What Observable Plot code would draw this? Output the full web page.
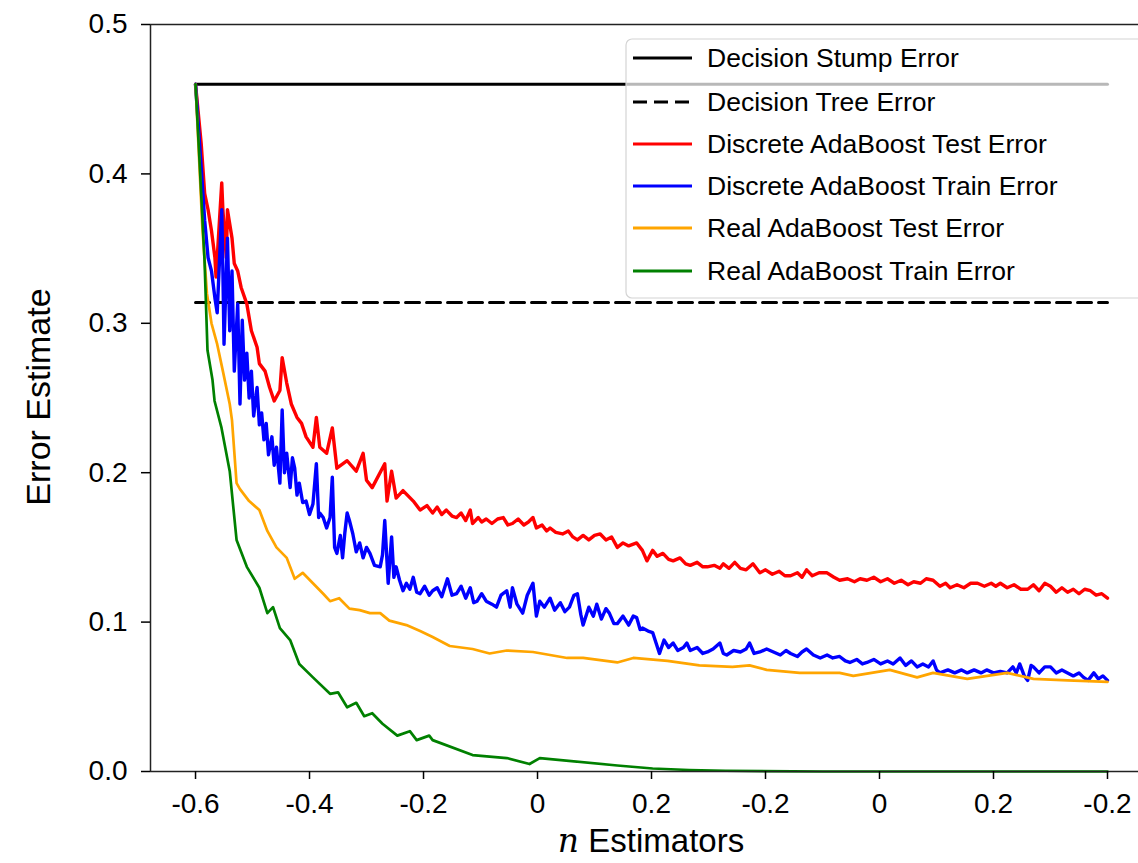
<!DOCTYPE html>
<html><head><meta charset="utf-8">
<script src="https://cdn.jsdelivr.net/npm/d3@7"></script>
<script src="https://cdn.jsdelivr.net/npm/@observablehq/plot@0.6"></script>
<style>body{margin:0;background:#fff;overflow:hidden}</style>
</head><body><div id="chart"></div>
<script>
// ---- data ----
const tickPositions = [0,1,2,3,4,5,6,7,8];
const tickLabels = ["-0.6","-0.4","-0.2","0","0.2","-0.2","0","0.2","-0.2"];
const yTicks = [0,0.1,0.2,0.3,0.4,0.5];
const stumpError = 0.46;
const treeError = 0.314;
const refSpan = [0, 8];

const redX = [0,0.05,0.08,0.11,0.14,0.17,0.18,0.23,0.24,0.27,0.28,0.32,0.34,0.37,0.40,0.45,0.49,0.54,0.56,0.61,0.65,0.69,0.74,0.76,0.80,0.84,0.89,0.93,0.97,1.03,1.06,1.09,1.15,1.20,1.24,1.33,1.41,1.47,1.50,1.55,1.66,1.68,1.72,1.76,1.82,1.91,
  1.97,2.03,2.08,2.12,2.16,2.20,2.25,2.29,2.33,2.37,2.41,2.43,2.48,2.51,2.55,2.60,2.65,2.70,2.74,2.78,2.83,2.88,2.92,2.96,2.99,3.04,3.08,3.11,3.16,3.22,3.27,3.31,3.35,3.40,3.45,3.50,3.55,3.60,3.65,3.70,3.75,3.80,3.87,3.92,3.96,
  4.01,4.05,4.10,4.15,4.19,4.25,4.30,4.34,4.40,4.45,4.49,4.55,4.60,4.63,4.68,4.73,4.78,4.83,4.89,4.95,5.00,5.06,5.12,5.17,5.22,5.28,5.32,5.36,5.41,5.47,5.54,5.60,5.65,5.72,5.78,5.83,5.89,5.95,
  6.01,6.07,6.13,6.19,6.25,6.30,6.36,6.41,6.47,6.53,6.58,6.62,6.68,6.74,6.80,6.86,6.92,6.98,7.02,7.06,7.12,7.18,7.24,7.30,7.35,7.40,7.45,7.50,7.55,7.60,7.65,7.70,7.75,7.80,7.85,7.90,7.95,8.00];
const redY = [0.460,0.420,0.387,0.376,0.362,0.344,0.331,0.394,0.376,0.344,0.376,0.357,0.340,0.335,0.324,0.313,0.295,0.284,0.273,0.268,0.257,0.248,0.255,0.277,0.260,0.246,0.237,0.233,0.224,0.217,0.237,0.217,0.213,0.230,0.203,0.208,0.201,0.213,0.195,0.190,0.206,0.181,0.201,0.183,0.188,0.181,
  0.175,0.178,0.173,0.177,0.172,0.175,0.171,0.170,0.173,0.168,0.175,0.166,0.170,0.167,0.169,0.166,0.169,0.170,0.165,0.166,0.169,0.165,0.167,0.170,0.163,0.165,0.161,0.163,0.160,0.159,0.161,0.157,0.155,0.158,0.155,0.158,0.159,0.155,0.157,0.150,0.153,0.151,0.153,0.148,0.141,
  0.148,0.144,0.146,0.142,0.141,0.143,0.139,0.138,0.140,0.137,0.137,0.138,0.136,0.139,0.136,0.140,0.136,0.135,0.139,0.133,0.135,0.132,0.134,0.131,0.131,0.133,0.130,0.135,0.131,0.133,0.133,0.130,0.128,0.129,0.127,0.129,0.128,0.130,
  0.127,0.129,0.126,0.128,0.125,0.127,0.126,0.129,0.128,0.124,0.126,0.123,0.125,0.123,0.126,0.126,0.124,0.126,0.124,0.126,0.123,0.125,0.122,0.122,0.125,0.121,0.126,0.124,0.120,0.123,0.120,0.122,0.119,0.122,0.121,0.118,0.119,0.116];

const blueX = [0,0.05,0.08,0.11,0.14,0.17,0.19,0.23,0.24,0.25,0.28,0.30,0.32,0.34,0.37,0.39,
  0.41,0.43,0.45,0.47,0.49,0.51,0.54,0.56,0.58,0.60,0.62,0.64,0.67,0.69,0.71,0.74,0.76,0.78,0.80,0.83,0.85,0.87,0.89,0.91,0.94,0.97,1.00,1.03,1.06,1.08,1.09,1.12,1.15,1.18,1.20,1.22,1.24,1.27,1.29,1.31,1.33,1.35,1.38,1.41,1.44,1.47,1.50,1.53,1.57,1.62,1.64,1.66,1.69,1.72,1.74,1.76,1.79,1.82,1.85,1.88,1.91,1.94,
  1.97,2.01,2.05,2.08,2.12,2.16,2.21,2.25,2.29,2.33,2.37,2.41,2.44,2.47,2.51,2.55,2.60,2.64,2.68,2.73,2.76,2.78,2.82,2.87,2.91,2.96,2.99,3.02,3.06,3.11,3.15,3.20,3.24,3.28,3.32,3.35,3.38,3.40,3.45,3.49,3.52,3.56,3.60,3.63,3.67,3.70,3.75,3.80,3.84,3.87,3.90,3.92,3.97,
  4.01,4.04,4.07,4.11,4.15,4.19,4.23,4.28,4.31,4.34,4.40,4.45,4.49,4.54,4.60,4.63,4.66,4.72,4.78,4.83,4.86,4.90,4.95,5.01,5.07,5.13,5.18,5.22,5.28,5.32,5.36,5.42,5.48,5.54,5.59,5.65,5.70,5.74,5.80,5.85,5.89,5.95,
  6.01,6.07,6.12,6.18,6.23,6.28,6.33,6.38,6.43,6.47,6.50,6.53,6.60,6.66,6.72,6.77,6.83,6.89,6.94,7.00,7.06,7.12,7.17,7.20,7.23,7.27,7.30,7.33,7.35,7.40,7.45,7.50,7.55,7.60,7.65,7.70,7.75,7.79,7.83,7.88,7.92,7.96,8.00];
const blueY = [0.460,0.404,0.369,0.344,0.335,0.317,0.307,0.376,0.335,0.286,0.357,0.295,0.335,0.268,0.313,0.246,
  0.302,0.262,0.280,0.250,0.268,0.238,0.257,0.232,0.240,0.222,0.233,0.212,0.224,0.205,0.217,0.193,0.242,0.200,0.213,0.190,0.210,0.203,0.185,0.193,0.180,0.181,0.172,0.179,0.206,0.170,0.173,0.170,0.163,0.170,0.197,0.150,0.146,0.158,0.143,0.160,0.173,0.168,0.159,0.147,0.153,0.143,0.150,0.146,0.138,0.137,0.145,0.168,0.126,0.157,0.130,0.137,0.128,0.121,0.126,0.122,0.130,0.120,
  0.119,0.124,0.118,0.121,0.123,0.117,0.129,0.118,0.119,0.124,0.116,0.123,0.113,0.114,0.119,0.114,0.112,0.110,0.118,0.121,0.110,0.123,0.112,0.106,0.118,0.126,0.104,0.114,0.110,0.116,0.108,0.113,0.107,0.110,0.118,0.119,0.105,0.098,0.110,0.104,0.112,0.102,0.109,0.106,0.099,0.099,0.104,0.098,0.104,0.103,0.095,0.096,0.094,
  0.093,0.086,0.079,0.088,0.083,0.086,0.081,0.083,0.086,0.081,0.083,0.079,0.080,0.082,0.086,0.079,0.078,0.081,0.080,0.082,0.086,0.079,0.080,0.082,0.080,0.078,0.081,0.079,0.077,0.080,0.082,0.078,0.076,0.078,0.076,0.077,0.074,0.073,0.075,0.072,0.073,0.075,
  0.072,0.074,0.072,0.076,0.071,0.074,0.070,0.072,0.070,0.074,0.068,0.066,0.068,0.066,0.068,0.066,0.068,0.066,0.068,0.066,0.067,0.066,0.070,0.066,0.072,0.064,0.061,0.071,0.070,0.066,0.070,0.070,0.066,0.068,0.066,0.064,0.066,0.063,0.061,0.066,0.062,0.064,0.061];

const orangeX = [0,0.06,0.10,0.14,0.19,0.24,0.30,0.32,0.36,0.39,0.47,0.56,0.63,0.71,0.80,0.87,0.94,1.03,1.12,1.18,1.26,1.35,1.44,1.53,1.62,1.70,1.85,1.97,2.08,2.23,2.43,2.58,2.73,2.96,3.11,3.26,3.40,3.70,3.84,4.14,4.42,4.71,4.86,5.01,5.30,5.65,5.77,6.09,6.33,6.47,6.77,7.12,7.35,7.65,8.00];
const orangeY = [0.460,0.364,0.320,0.300,0.286,0.268,0.246,0.235,0.193,0.189,0.181,0.175,0.161,0.150,0.143,0.129,0.133,0.126,0.119,0.114,0.116,0.109,0.108,0.106,0.106,0.101,0.098,0.094,0.090,0.084,0.082,0.079,0.081,0.080,0.078,0.076,0.076,0.073,0.076,0.074,0.071,0.070,0.071,0.068,0.066,0.066,0.064,0.068,0.063,0.066,0.062,0.066,0.062,0.061,0.060];

const greenX = [0,0.035,0.079,0.105,0.149,0.167,0.228,0.30,0.36,0.45,0.56,0.63,0.68,0.74,0.83,0.91,1.03,1.18,1.25,1.33,1.41,1.48,1.55,1.64,1.77,1.88,1.94,2.05,2.08,2.43,2.73,2.93,3.02,3.70,4.01,4.33,4.65,5.5,6.5,8.0];
const greenY = [0.460,0.409,0.342,0.282,0.262,0.248,0.230,0.201,0.155,0.137,0.123,0.106,0.110,0.096,0.088,0.072,0.063,0.052,0.053,0.043,0.046,0.037,0.039,0.032,0.024,0.027,0.021,0.024,0.021,0.011,0.009,0.005,0.009,0.004,0.002,0.001,0.0005,0.0,0.0,0.0];

const seriesNames = ["Discrete AdaBoost Test Error","Discrete AdaBoost Train Error","Real AdaBoost Test Error","Real AdaBoost Train Error"];
const seriesColors = ["red","blue","orange","green"];
const legendLabels = ["Decision Stump Error","Decision Tree Error", ...seriesNames];
const legendColors = ["black","black", ...seriesColors];
const legendDashed = [false,true,false,false,false,false];

// ---- build ----
const xDomain = [-0.395, 8.272];
const rows = (xs, ys) => xs.map((x, i) => ({x, y: ys[i]}));
const seriesData = [rows(redX, redY), rows(blueX, blueY), rows(orangeX, orangeY), rows(greenX, greenY)];
const seriesWidths = [3.4, 3.4, 2.7, 2.7];

const fontFamily = "'Liberation Sans', Arial, Helvetica, sans-serif";
const chart = Plot.plot({
  width: 1138, height: 863,
  marginLeft: 150, marginRight: 0, marginTop: 24, marginBottom: 92,
  style: {fontFamily, background: "white", color: "black"},
  x: {domain: xDomain},
  y: {domain: [0, 0.5]},
  marks: [
    Plot.line(refSpan.map(x => ({x, y: stumpError})), {x: "x", y: "y", stroke: "black", strokeWidth: 3}),
    Plot.line(refSpan.map(x => ({x, y: treeError})), {x: "x", y: "y", stroke: "black", strokeWidth: 3, strokeDasharray: "14,7"}),
    ...seriesData.map((d, i) => Plot.line(d, {x: "x", y: "y", stroke: seriesColors[i], strokeWidth: seriesWidths[i], strokeLinejoin: "round"})),
    Plot.ruleX([xDomain[0]], {stroke: "#222", strokeWidth: 1.5}),
    Plot.ruleY([0], {stroke: "#222", strokeWidth: 1.5}),
    Plot.ruleY([0.5], {stroke: "#222", strokeWidth: 1.5}),
    Plot.axisX({ticks: tickPositions, tickFormat: i => tickLabels[i], tickSize: 8, tickPadding: 14, fontSize: 28, label: null, strokeWidth: 1.5}),
    Plot.axisY({ticks: yTicks, tickFormat: d3.format(".1f"), tickSize: 9, tickPadding: 14, fontSize: 28, label: null, strokeWidth: 1.5})
  ]
});
document.getElementById("chart").appendChild(chart);

const svg = d3.select(chart);
svg.append("text")
  .attr("transform", "translate(38,397) rotate(-90)")
  .attr("text-anchor", "middle").attr("dominant-baseline", "central")
  .style("font-family", fontFamily).style("font-size", "34px").attr("fill", "black")
  .text("Error Estimate");
const xl = svg.append("text").attr("x", 651).attr("y", 852).attr("text-anchor", "middle")
  .style("font-family", fontFamily).style("font-size", "33px").attr("fill", "black");
xl.append("tspan").style("font-family", "'DejaVu Serif', serif").style("font-style", "italic").text("n");
xl.append("tspan").text(" Estimators");

const lg = svg.append("g");
lg.append("rect").attr("x", 626).attr("y", 39).attr("width", 530).attr("height", 259).attr("rx", 6)
  .attr("fill", "white").attr("fill-opacity", 0.72).attr("stroke", "#d4d4d4").attr("stroke-width", 1.2);
const rowY = [58, 102, 144, 186, 228, 271];
legendLabels.forEach((lab, i) => {
  lg.append("line").attr("x1", 633).attr("x2", 692).attr("y1", rowY[i]).attr("y2", rowY[i])
    .attr("stroke", legendColors[i]).attr("stroke-width", 3)
    .attr("stroke-dasharray", legendDashed[i] ? "14,7" : null);
  lg.append("text").attr("x", 707).attr("y", rowY[i]).attr("dy", "0.35em").attr("text-anchor", "start")
    .style("font-family", fontFamily).style("font-size", "26.5px").attr("fill", "black").text(lab);
});
</script></body></html>
